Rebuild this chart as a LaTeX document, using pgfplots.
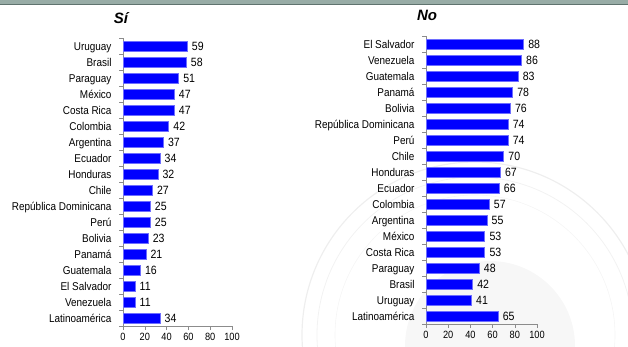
\documentclass[border=0pt]{standalone}
\usepackage{pgfplots}
\pgfplotsset{compat=1.18}
\usepackage{fontspec}
\setmainfont{Liberation Sans}[FakeStretch=0.88]
\newfontfamily\titlefont{Liberation Sans}

\definecolor{barblue}{RGB}{0,0,255}
\definecolor{baredge}{RGB}{110,110,255}
\definecolor{axisgray}{RGB}{140,140,140}
\definecolor{topbar}{RGB}{152,172,166}
\definecolor{topline}{RGB}{95,115,110}

\pgfplotsset{
  hbar/.style={
    xbar, scale only axis,
    anchor=south west,
    width=110pt, height=288pt,
    xmin=0, xmax=100,
    ymin=-0.5, ymax=17.5,
    bar width=10pt,
    axis x line=bottom, axis y line=left,
    axis line style={-, draw=axisgray, line width=0.6pt},
    xtick={0,20,...,100},
    ytick={-0.5,0.5,...,17.5},
    yticklabels={},
    tick align=outside,
    major tick length=4pt,
    tick style={draw=axisgray, line width=0.6pt},
    extra y ticks={0,...,17},
    extra y tick style={tick style={draw=none},
      yticklabel style={xshift=-4pt, text height=8pt, text depth=0pt}},
    /pgf/number format/assume math mode=true,
    xticklabel style={font=\fontsize{10.5}{12}\selectfont},
    yticklabel style={font=\fontsize{11.3}{13}\selectfont},
    nodes near coords,
    nodes near coords style={font=\fontsize{12}{14}\selectfont, text=black,
      xshift=1pt, text height=8.6pt, text depth=0pt},
    clip=false,
  }
}

\begin{document}
\begin{tikzpicture}[x=1pt,y=1pt]
\useasboundingbox (0,0) rectangle (628,346);
% faint seal watermark
\begin{scope}
  \clip (0,0) rectangle (628,340);
  \fill[gray!6] (490,0) circle (85);
  \draw[gray!13, line width=1.2pt] (475,11) circle (173);
  \draw[gray!10, line width=0.8pt] (475,11) circle (158);
  \draw[gray!8, line width=0.6pt] (475,11) circle (140);
\end{scope}
% top band
\fill[topbar] (0,341) rectangle (628,346);
\draw[topline, line width=1pt] (0,341.5) -- (628,341.5);

\node[font=\titlefont\bfseries\itshape\fontsize{15}{17}\selectfont] at (121,328) {Sí};
\node[font=\titlefont\bfseries\itshape\fontsize{15}{17}\selectfont] at (427,331) {No};

\begin{axis}[hbar, at={(123pt,20pt)}, width=109pt,
  extra y tick labels={Latinoamérica,Venezuela,El Salvador,Guatemala,Panamá,Bolivia,Perú,República Dominicana,Chile,Honduras,Ecuador,Argentina,Colombia,Costa Rica,México,Paraguay,Brasil,Uruguay}]
\addplot[fill=barblue, draw=baredge, line width=0.7pt] coordinates {
  (34,0) (11,1) (11,2) (16,3) (21,4) (23,5) (25,6) (25,7) (27,8)
  (32,9) (34,10) (37,11) (42,12) (47,13) (47,14) (51,15) (58,16) (59,17)
};
\end{axis}

\begin{axis}[hbar, at={(426pt,22pt)}, width=111pt,
  extra y tick labels={Latinoamérica,Uruguay,Brasil,Paraguay,Costa Rica,México,Argentina,Colombia,Ecuador,Honduras,Chile,Perú,República Dominicana,Bolivia,Panamá,Guatemala,Venezuela,El Salvador}]
\addplot[fill=barblue, draw=baredge, line width=0.7pt] coordinates {
  (65,0) (41,1) (42,2) (48,3) (53,4) (53,5) (55,6) (57,7) (66,8)
  (67,9) (70,10) (74,11) (74,12) (76,13) (78,14) (83,15) (86,16) (88,17)
};
\end{axis}
\end{tikzpicture}
\end{document}
